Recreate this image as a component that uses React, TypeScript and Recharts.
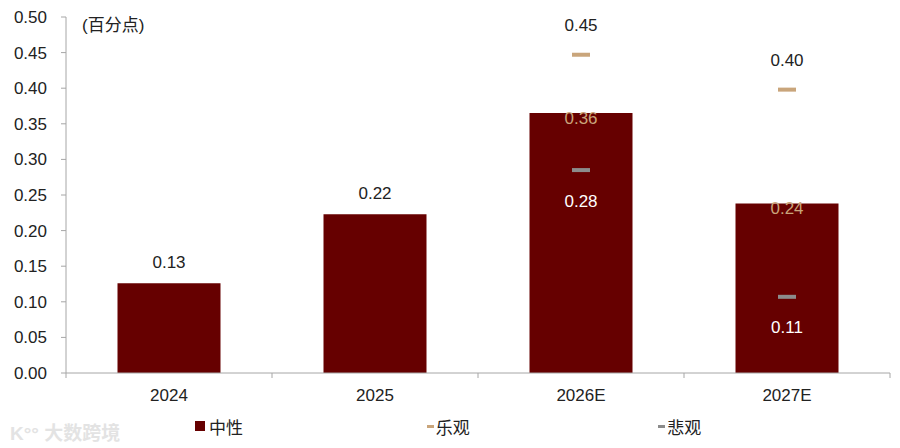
import React from 'react';
import { ComposedChart, Bar, Scatter, XAxis, YAxis, LabelList, Legend } from 'recharts';

const categories = ['2024', '2025', '2026E', '2027E'];
const neutral = [0.126, 0.223, 0.365, 0.238];
const optimistic: (number | null)[] = [null, null, 0.447, 0.398];
const pessimistic: (number | null)[] = [null, null, 0.285, 0.107];
const neutralLabels = ['0.13', '0.22', '0.36', '0.24'];
const optimisticLabels: (string | null)[] = [null, null, '0.45', '0.40'];
const pessimisticLabels: (string | null)[] = [null, null, '0.28', '0.11'];
const yTicks = [0, 0.05, 0.1, 0.15, 0.2, 0.25, 0.3, 0.35, 0.4, 0.45, 0.5];

const data = categories.map((c, i) => ({
  cat: c,
  neutral: neutral[i],
  opt: optimistic[i],
  pes: pessimistic[i],
}));

const FONT = '"Liberation Sans", Arial, "Noto Sans CJK SC", sans-serif';
const BAR = '#660000';
const TAN = '#C9A57B';
const GRAY = '#8C8C8C';
const AXIS = '#A6A6A6';
const FS = 17;

const XTick = (props: any) => {
  const { x, y, payload, index, visibleTicksCount } = props;
  const off = payload && payload.offset != null ? payload.offset : 0;
  const last = index === (visibleTicksCount ?? categories.length) - 1;
  return (
    <g>
      <line x1={x - off} x2={x - off} y1={y - 8} y2={y - 3} stroke={AXIS} />
      {last && <line x1={x + off} x2={x + off} y1={y - 8} y2={y - 3} stroke={AXIS} />}
      <text x={x} y={y + 14} textAnchor="middle" dominantBaseline="central" fontSize={FS} fill="#222" fontFamily={FONT}>
        {payload.value}
      </text>
    </g>
  );
};

const BarLabel = (props: any) => {
  const { x, y, width, index } = props;
  const inside = optimistic[index] != null;
  const cx = x + width / 2;
  return (
    <text
      x={cx}
      y={inside ? y + 5 : y - 21}
      textAnchor="middle"
      dominantBaseline="central"
      fontSize={FS}
      fill={inside ? TAN : '#222'}
      fontFamily={FONT}
    >
      {neutralLabels[index]}
    </text>
  );
};

const makeMarker = (key: 'opt' | 'pes', color: string, labels: (string | null)[], dy: number, textColor: string) =>
  (props: any) => {
    const { cx, cy, payload } = props;
    if (!payload || payload[key] == null) return <g />;
    const idx = categories.indexOf(payload.cat);
    return (
      <g>
        <rect x={cx - 9} y={cy - 2} width={18} height={4} fill={color} />
        <text x={cx} y={cy + dy} textAnchor="middle" dominantBaseline="central" fontSize={FS} fill={textColor} fontFamily={FONT}>
          {labels[idx]}
        </text>
      </g>
    );
  };

const OptShape = makeMarker('opt', TAN, optimisticLabels, -29, '#222');
const PesShape = makeMarker('pes', GRAY, pessimisticLabels, 31, '#FFFFFF');

const legendItems = [
  { name: '中性', kind: 'square', color: BAR },
  { name: '乐观', kind: 'dash', color: TAN },
  { name: '悲观', kind: 'dash', color: GRAY },
];

const LegendContent = () => (
  <div style={{ display: 'flex', paddingLeft: 195, fontFamily: FONT, fontSize: 17, color: '#222', height: 40, alignItems: 'center', paddingTop: 3 }}>
    {legendItems.map((it) => (
      <div key={it.name} style={{ width: 233, display: 'flex', alignItems: 'center' }}>
        {it.kind === 'square' ? (
          <span style={{ display: 'inline-block', width: 10, height: 10, background: it.color, marginRight: 4 }} />
        ) : (
          <span style={{ display: 'inline-block', width: 7, height: 3, background: it.color, marginRight: 2 }} />
        )}
        <span>{it.name}</span>
      </div>
    ))}
  </div>
);

export default function App() {
  return (
    <div style={{ position: 'relative', width: 900, height: 448, background: '#fff' }}>
      <style>{`body{margin:0;}`}</style>
      <ComposedChart width={900} height={448} data={data} margin={{ top: 17, right: 10, bottom: 5, left: 0 }} barCategoryGap="25%">
        <XAxis
          dataKey="cat"
          type="category"
          height={30}
          axisLine={{ stroke: AXIS }}
          tickLine={false}
          tick={<XTick />}
          interval={0}
        />
        <YAxis
          type="number"
          domain={[0, 0.5]}
          ticks={yTicks}
          tickFormatter={(v: number) => v.toFixed(2)}
          width={66}
          axisLine={{ stroke: AXIS }}
          tickLine={{ stroke: AXIS }}
          tickSize={5}
          tickMargin={14}
          tick={{ fontSize: FS, fill: '#222', fontFamily: FONT }}
          allowDataOverflow
        />
        <Legend verticalAlign="bottom" height={40} content={<LegendContent />} />
        <Bar dataKey="neutral" fill={BAR} isAnimationActive={false}>
          <LabelList dataKey="neutral" content={<BarLabel />} />
        </Bar>
        <Scatter dataKey="opt" shape={OptShape} isAnimationActive={false} />
        <Scatter dataKey="pes" shape={PesShape} isAnimationActive={false} />
      </ComposedChart>
      <div style={{ position: 'absolute', left: 82, top: 11, fontFamily: FONT, fontSize: 17, color: '#222' }}>(百分点)</div>
      <div style={{ position: 'absolute', left: 10, top: 418, fontFamily: FONT, fontSize: 19, color: '#E3E3E3', fontWeight: 'bold', letterSpacing: 0 }}>
        K°° 大数跨境
      </div>
    </div>
  );
}
